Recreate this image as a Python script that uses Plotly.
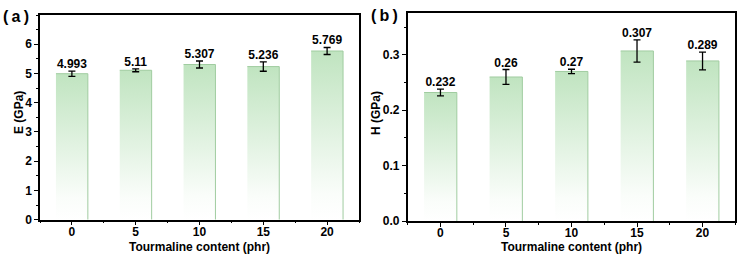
import plotly.graph_objects as go

# ---- data ----
content = [0, 5, 10, 15, 20]
tick_labels = ["0", "5", "10", "15", "20"]
E_vals = [4.993, 5.11, 5.307, 5.236, 5.769]
E_err = [0.09, 0.05, 0.12, 0.16, 0.12]
E_labels = ["4.993", "5.11", "5.307", "5.236", "5.769"]
E_ticks = [0, 1, 2, 3, 4, 5, 6]
H_vals = [0.232, 0.26, 0.27, 0.307, 0.289]
H_err = [0.006, 0.0135, 0.004, 0.02, 0.016]
H_labels = ["0.232", "0.26", "0.27", "0.307", "0.289"]
H_ticks = [0.0, 0.1, 0.2, 0.3]

BAR_W = 2.5
W, H = 744, 262
FONT = "Liberation Sans"
TOP_GREEN = "rgb(192,228,192)"
EDGE = "rgb(160,204,160)"

fig = go.Figure()


def add_panel(vals, errs, labels, xa, ya):
    xref = "x" if xa == "" else "x" + xa
    yref = "y" if ya == "" else "y" + ya
    for xc, v in zip(content, vals):
        x0, x1 = xc - BAR_W / 2, xc + BAR_W / 2
        fig.add_trace(go.Scatter(
            x=[x0, x1, x1, x0, x0], y=[0, 0, v, v, 0],
            mode="lines", fill="toself", line=dict(width=0),
            fillgradient=dict(type="vertical", start=0, stop=v,
                              colorscale=[[0, "rgb(255,255,255)"], [0.15, "rgb(250,253,250)"],
                                          [1, TOP_GREEN]]),
            xaxis=xref, yaxis=yref, hoverinfo="skip", showlegend=False))
    ex, ey = [], []
    for xc, v in zip(content, vals):
        x0, x1 = xc - BAR_W / 2, xc + BAR_W / 2
        ex += [x0, x1, x1, None]
        ey += [v, v, 0, None]
    fig.add_trace(go.Scatter(x=ex, y=ey, mode="lines", line=dict(color=EDGE, width=1),
                             xaxis=xref, yaxis=yref, hoverinfo="skip", showlegend=False))
    fig.add_trace(go.Scatter(
        x=content, y=vals, mode="markers", marker=dict(size=1, opacity=0),
        error_y=dict(type="data", array=errs, visible=True, color="black", thickness=1.3, width=3.5),
        xaxis=xref, yaxis=yref, hoverinfo="skip", showlegend=False))
    fig.add_trace(go.Scatter(
        x=content, y=[v + e for v, e in zip(vals, errs)], mode="text", text=labels,
        textposition="top center",
        textfont=dict(family=FONT, size=12, color="black", weight="bold"),
        xaxis=xref, yaxis=yref, hoverinfo="skip", showlegend=False))


add_panel(E_vals, E_err, E_labels, "", "")
add_panel(H_vals, H_err, H_labels, "2", "2")

axis_common = dict(showline=True, linecolor="black", linewidth=1.5, mirror=True,
                   ticks="outside", ticklen=4, tickwidth=1.2, tickcolor="black",
                   showgrid=False, zeroline=False,
                   tickfont=dict(family=FONT, size=12, color="black", weight="bold"))

xa_common = dict(axis_common, range=[-2.5, 22.5], tickmode="array", tickvals=content,
                 ticktext=tick_labels, ticklabelstandoff=-4,
                 minor=dict(ticks="outside", ticklen=2, tickwidth=1, tickcolor="black", dtick=2.5,
                            tick0=0, showgrid=False))

fig.update_layout(
    width=W, height=H, autosize=False, margin=dict(l=0, r=0, t=0, b=0, autoexpand=False),
    paper_bgcolor="white", plot_bgcolor="white",
    xaxis=dict(xa_common, domain=[40 / W, 359 / W], anchor="y"),
    yaxis=dict(axis_common, domain=[1 - 219.7 / H, 1 - 15 / H], range=[0, 7],
               tickmode="array", tickvals=E_ticks, anchor="x",
               minor=dict(ticks="outside", ticklen=2, tickwidth=1, tickcolor="black", dtick=0.5,
                          tick0=0, showgrid=False)),
    xaxis2=dict(xa_common, domain=[407.7 / W, 735.3 / W], anchor="y2"),
    yaxis2=dict(axis_common, domain=[1 - 221 / H, 1 - 13.3 / H], range=[0, 0.375],
                tickmode="array", tickvals=H_ticks, tickformat=".1f", anchor="x2",
                minor=dict(ticks="outside", ticklen=2, tickwidth=1, tickcolor="black", dtick=0.05,
                           tick0=0, showgrid=False)),
)

title_font = dict(family=FONT, size=12, color="black", weight="bold")
ann = [
    dict(text="Tourmaline content (phr)", x=(40 + 359) / 2 / W, y=1 - 247 / H),
    dict(text="Tourmaline content (phr)", x=(407.7 + 735.3) / 2 / W, y=1 - 247 / H),
    dict(text="E (GPa)", x=19 / W, y=1 - 113 / H, textangle=-90),
    dict(text="H (GPa)", x=376 / W, y=1 - 113 / H, textangle=-90),
]
for a in ann:
    fig.add_annotation(xref="paper", yref="paper", showarrow=False, xanchor="center",
                       yanchor="middle", font=title_font, **a)

panel_font = dict(family=FONT, size=16, color="black", weight="bold")
fig.add_annotation(text="(\u2009a\u2009)", x=15.5 / W, y=1 - 16.5 / H, xref="paper", yref="paper",
                   showarrow=False, xanchor="center", yanchor="middle", font=panel_font)
fig.add_annotation(text="(\u2009b\u2009)", x=384.5 / W, y=1 - 15 / H, xref="paper", yref="paper",
                   showarrow=False, xanchor="center", yanchor="middle", font=panel_font)

fig.write_html("out.html", config={"responsive": False})
